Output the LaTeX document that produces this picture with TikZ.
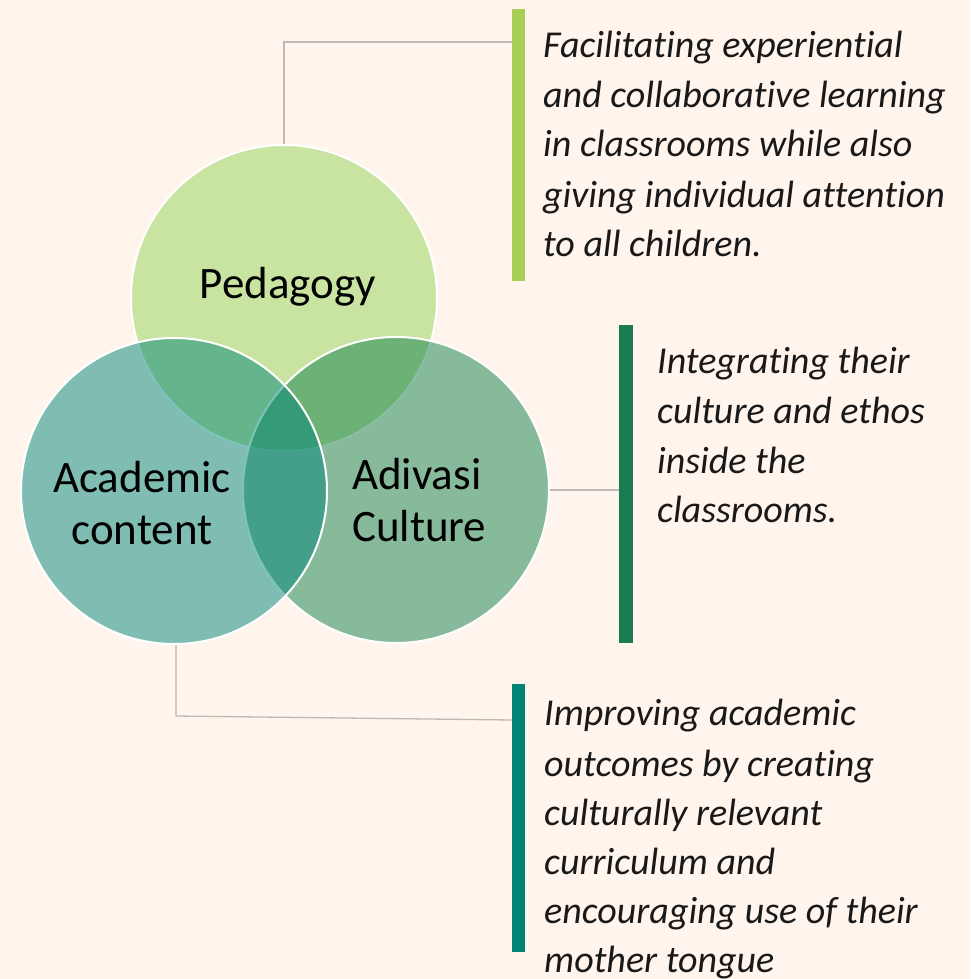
\documentclass[tikz,border=0pt]{standalone}
\usepackage{fontspec}
\setmainfont{Carlito}[Ligatures={NoCommon,NoRare,NoContextual}]
\definecolor{bg}{RGB}{255,245,237}
\definecolor{pedC}{RGB}{201,228,160}
\definecolor{adivC}{RGB}{17,127,75}
\definecolor{acadC}{RGB}{0,135,121}
\definecolor{barA}{RGB}{169,208,85}
\definecolor{barB}{RGB}{26,125,82}
\definecolor{barC}{RGB}{0,133,117}
\definecolor{connC}{RGB}{190,185,180}
\definecolor{txtC}{RGB}{25,25,25}
\tikzset{
  venn/.style={circle, minimum size=306pt, inner sep=0pt, draw=white, line width=2pt},
  lbl/.style={font=\fontsize{45}{52}\selectfont, text=black, inner sep=0pt, anchor=base},
  desc/.style={font=\fontsize{38}{49.5}\itshape\selectfont, text=txtC, inner sep=0pt, anchor=base west},
  barbox/.style={rectangle, inner sep=0pt, minimum width=13pt, anchor=north west},
  conn/.style={draw=connC, line width=1.3pt}
}
\begin{document}
\begin{tikzpicture}[x=1pt,y=-1pt]
\fill[bg] (0,0) rectangle (970,979);
\useasboundingbox (0,0) rectangle (970,979);
% circles
\node[venn, fill=pedC] (ped) at (284,298) {};
\node[venn, fill=adivC, fill opacity=0.5] (adiv) at (396,490) {};
\node[venn, fill=acadC, fill opacity=0.5] (acad) at (174,491) {};
% labels
\node[lbl] (lped) at (288,298) {Pedagogy};
\node[lbl] (lacad1) at (142,492) {Academic};
\node[lbl] (lacad2) at (142,544) {content};
\node[lbl, anchor=base west] (ladiv1) at (352,489) {Adivasi};
\node[lbl, anchor=base west] (ladiv2) at (352,541) {Culture};
% connector coordinates
\coordinate (c1) at (512,42);
\coordinate (c3a) at (176,716);
\coordinate (c3b) at (512,720);
% connectors
\draw[conn] (ped.north) |- (c1);
\draw[conn] (adiv.east) -- (619,490);
\draw[conn] (acad.south -| c3a) -- (c3a) -- (c3b);
% bars
\node[barbox, fill=barA, minimum height=272pt] (bar1) at (512,9) {};
\node[barbox, fill=barB, minimum height=318pt, minimum width=14pt] (bar2) at (619,325) {};
\node[barbox, fill=barC, minimum height=268pt] (bar3) at (512,684) {};
% description 1
\node[desc] (d1a) at (543,58) {Facilitating experiential};
\node[desc] (d1b) at (543,108) {and collaborative learning};
\node[desc] (d1c) at (543,157) {in classrooms while also};
\node[desc] (d1d) at (543,207) {giving individual attention};
\node[desc] (d1e) at (543,256) {to all children.};
% description 2
\node[desc] (d2a) at (657,373) {Integrating their};
\node[desc] (d2b) at (657,423) {culture and ethos};
\node[desc] (d2c) at (657,473) {inside the};
\node[desc] (d2d) at (657,522) {classrooms.};
% description 3
\node[desc] (d3a) at (544,725) {Improving academic};
\node[desc] (d3b) at (544,776) {outcomes by creating};
\node[desc] (d3c) at (544,825) {culturally relevant};
\node[desc] (d3d) at (544,874) {curriculum and};
\node[desc] (d3e) at (544,923) {encouraging use of their};
\node[desc] (d3f) at (544,972) {mother tongue};
\end{tikzpicture}
\end{document}
